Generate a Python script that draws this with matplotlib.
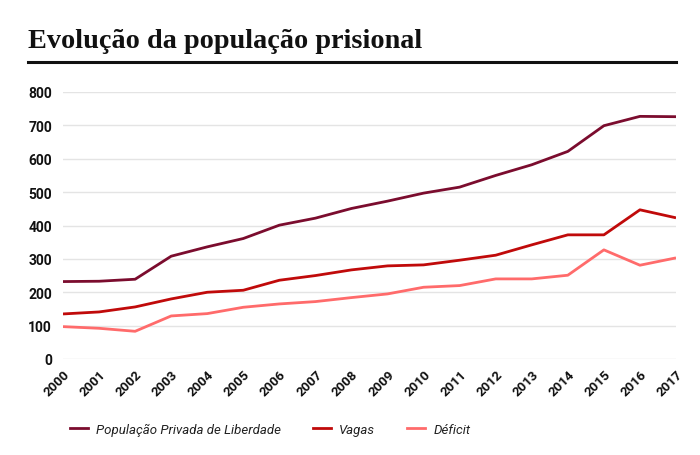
import numpy as np
import matplotlib
matplotlib.use('Agg')
from matplotlib import pyplot as plt
from matplotlib.lines import Line2D

# Data (thousands)
years = list(range(2000, 2018))
populacao = [232, 233, 239, 308, 336, 361, 401, 422, 451, 473, 497, 515, 550, 582, 622, 699, 727, 726]
vagas = [135, 141, 156, 180, 200, 206, 236, 250, 267, 279, 282, 296, 311, 342, 372, 372, 447, 423]
deficit = [97, 92, 83, 129, 136, 155, 165, 172, 184, 195, 215, 220, 240, 240, 251, 327, 281, 303]
series_names = ['População Privada de Liberdade', 'Vagas', 'Déficit']
colors = ['#7b0c2e', '#c00a0a', '#ff6b6b']
yticks = [0, 100, 200, 300, 400, 500, 600, 700, 800]

fig = plt.figure(figsize=(7, 4.56), dpi=100)

# Title and rule
fig.text(28 / 700, 1 - 42 / 456, 'Evolução da população prisional', family='Liberation Serif',
         weight='bold', size=20.3, va='center', ha='left', color='#111111')
fig.add_artist(Line2D([28 / 700, 676 / 700], [1 - 63 / 456, 1 - 63 / 456], color='#111111', lw=2.2))

ax = fig.add_axes([63 / 700, 96 / 456, 613 / 700, 267 / 456])
for vals, c in zip([populacao, vagas, deficit], colors):
    ax.plot(years, vals, color=c, lw=2, solid_capstyle='butt', zorder=3)

ax.set_xlim(2000, 2017)
ax.set_ylim(0, 800)
ax.set_yticks(yticks)
ax.set_xticks(years)
ax.set_xticklabels([str(y) for y in years], rotation=45, ha='right', va='top',
                   rotation_mode='anchor', weight='bold', size=9.5, family='Roboto')
ax.set_yticklabels([str(v) for v in yticks], weight='bold', size=10, family='Roboto')
ax.grid(axis='y', color='#e4e4e4', lw=1)
ax.set_axisbelow(True)
for s in ax.spines.values():
    s.set_visible(False)
ax.tick_params(axis='both', length=0, colors='#111111')
ax.tick_params(axis='y', pad=8)
ax.tick_params(axis='x', pad=6)

handles = [Line2D([], [], color=c, lw=2) for c in colors]
leg = fig.legend(handles, series_names, loc='center left', bbox_to_anchor=(58 / 700, 1 - 430 / 456),
                 ncol=3, frameon=False, handlelength=1.4, handletextpad=0.6, columnspacing=2.4,
                 prop={'style': 'italic', 'size': 9.5, 'family': 'Roboto'})
for t in leg.get_texts():
    t.set_color('#222222')

fig.savefig('out.png', dpi=100)
